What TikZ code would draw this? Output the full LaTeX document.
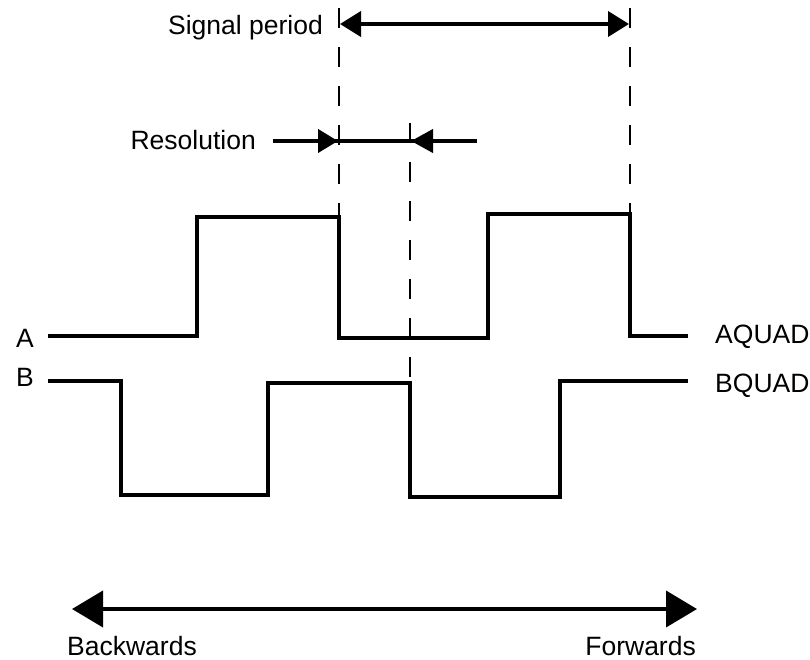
\documentclass[tikz,border=0pt]{standalone}
\usepackage{fontspec}
\setmainfont{Liberation Sans}
\usetikzlibrary{arrows.meta}
\tikzset{
  bigtip/.tip={Triangle[length=31pt,width=36pt]},
  midtip/.tip={Triangle[length=21pt,width=25pt]},
  rtip/.tip={Triangle[length=20pt,width=23pt]},
  ltip/.tip={Triangle[length=22pt,width=23pt]}}
\begin{document}
\begin{tikzpicture}[x=1pt,y=-1pt,
  sig/.style={line width=4.4pt,line join=miter,line cap=butt},
  guide/.style={line width=1.8pt,dash pattern=on 20pt off 19pt},
  dim/.style={line width=4pt},
  lbl/.style={inner sep=0pt,font=\fontsize{26.5}{30}\selectfont}]
\useasboundingbox (0,0) rectangle (810,659);
% signal A
\coordinate (a0) at (48,336);
\coordinate (aR1) at (197,217);
\coordinate (aF1) at (339,338);
\coordinate (aR2) at (488,214);
\coordinate (aF2) at (630,336);
\coordinate (a1) at (688,336);
\draw[sig] (a0) -| (aR1) -| (aF1) -| (aR2) -| (aF2) -- (a1);
% signal B
\coordinate (b0) at (48,381);
\coordinate (bF1) at (121,495);
\coordinate (bR1) at (268,383);
\coordinate (bF2) at (410,497);
\coordinate (bR2) at (560,381);
\coordinate (b1) at (688,381);
\draw[sig] (b0) -| (bF1) -| (bR1) -| (bF2) -| (bR2) -- (b1);
% labels
\node[lbl,anchor=base east] (A) at (34,347) {A};
\node[lbl,anchor=base east] (B) at (34,386) {B};
\node[lbl,anchor=base west] (AQ) at (715,343) {AQUAD};
\node[lbl,anchor=base west] (BQ) at (715,392) {BQUAD};
% dashed guides
\coordinate (g1t) at (339,8);
\coordinate (g1b) at (339,217);
\coordinate (g2t) at (630,8);
\coordinate (g2b) at (630,214);
\coordinate (g3t) at (410,123);
\coordinate (g3b) at (410,384);
\draw[guide] (g1t) -- (g1b);
\draw[guide] (g2t) -- (g2b);
\draw[guide] (g3t) -- (g3b);
% signal period
\coordinate (sp1) at (340,24);
\coordinate (sp2) at (629,24);
\draw[dim,midtip-midtip] (sp1) -- (sp2);
\node[lbl,anchor=base east] (SP) at (323,34) {Signal period};
% resolution
\coordinate (r0) at (273,141);
\coordinate (r1) at (338,141);
\coordinate (r2) at (411,141);
\coordinate (r3) at (477,141);
\draw[dim] (r0) -- (r3);
\draw[dim,-rtip] (r0) -- (r1);
\draw[dim,-ltip] (r3) -- (r2);
\node[lbl,anchor=base east] (RES) at (256,149) {Resolution};
% direction
\coordinate (d1) at (72,609);
\coordinate (d2) at (697,609);
\draw[dim,bigtip-bigtip] (d1) -- (d2);
\node[lbl,anchor=base west] (BW) at (67,655) {Backwards};
\node[lbl,anchor=base east] (FW) at (696,655) {Forwards};
\end{tikzpicture}
\end{document}
